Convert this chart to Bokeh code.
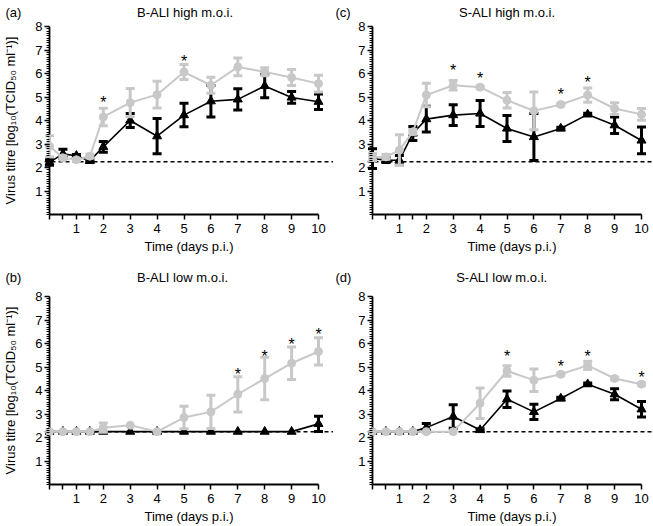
from bokeh.plotting import figure
from bokeh.layouts import gridplot
from bokeh.models import FixedTicker, Span, Range1d
from bokeh.core.properties import value
from bokeh.embed import file_html
from bokeh.resources import INLINE

# ---------------- data ----------------
days = [0, 0.5, 1, 1.5, 2, 3, 4, 5, 6, 7, 8, 9, 10]

# (a) B-ALI high m.o.i.
a_grey = [2.90, 2.41, 2.33, 2.48, 4.15, 4.76, 5.10, 6.06, 5.50, 6.28, 6.07, 5.83, 5.57]
a_grey_err = [0.45, 0.08, 0.05, 0.08, 0.37, 0.60, 0.57, 0.32, 0.34, 0.38, 0.17, 0.34, 0.36]
a_black = [2.22, 2.58, 2.50, 2.28, 2.88, 4.00, 3.33, 4.23, 4.82, 4.90, 5.47, 4.98, 4.80]
a_black_err = [0.12, 0.20, 0.05, 0.05, 0.23, 0.30, 0.75, 0.50, 0.67, 0.45, 0.50, 0.25, 0.33]
a_star_x = [2, 5]
a_star_y = [4.93, 6.68]

# (b) B-ALI low m.o.i.
b_grey = [2.25, 2.25, 2.25, 2.25, 2.42, 2.52, 2.25, 2.85, 3.09, 3.84, 4.51, 5.16, 5.66]
b_grey_err = [0, 0, 0, 0, 0.20, 0, 0, 0.48, 0.71, 0.75, 0.90, 0.69, 0.58]
b_black = [2.25, 2.25, 2.25, 2.25, 2.25, 2.25, 2.25, 2.25, 2.25, 2.25, 2.25, 2.25, 2.58]
b_black_err = [0, 0, 0, 0, 0, 0, 0, 0, 0, 0, 0, 0, 0.32]
b_star_x = [7, 8, 9, 10]
b_star_y = [4.83, 5.61, 6.14, 6.54]

# (c) S-ALI high m.o.i.
c_grey = [2.45, 2.45, 2.74, 3.52, 5.08, 5.50, 5.42, 4.86, 4.41, 4.68, 5.08, 4.51, 4.26]
c_grey_err = [0.15, 0.10, 0.65, 0.10, 0.50, 0.20, 0.05, 0.33, 0.80, 0.05, 0.30, 0.25, 0.25]
c_black = [2.38, 2.31, 2.31, 3.45, 4.06, 4.23, 4.30, 3.66, 3.30, 3.66, 4.26, 3.80, 3.15]
c_black_err = [0.42, 0.10, 0.20, 0.30, 0.55, 0.44, 0.55, 0.55, 1.00, 0.05, 0.05, 0.35, 0.57]
c_star_x = [3, 4, 7, 8]
c_star_y = [6.28, 5.96, 5.29, 5.79]

# (d) S-ALI low m.o.i.
d_grey = [2.25, 2.25, 2.25, 2.25, 2.25, 2.25, 3.46, 4.83, 4.44, 4.69, 5.07, 4.51, 4.27]
d_grey_err = [0, 0, 0, 0, 0, 0, 0.65, 0.22, 0.48, 0.05, 0.18, 0.05, 0.05]
d_black = [2.25, 2.25, 2.25, 2.25, 2.42, 2.89, 2.32, 3.63, 3.09, 3.66, 4.27, 3.84, 3.20]
d_black_err = [0, 0, 0, 0, 0.18, 0.50, 0.05, 0.35, 0.32, 0.05, 0.05, 0.23, 0.33]
d_star_x = [5, 7, 8, 10]
d_star_y = [5.61, 5.19, 5.61, 4.74]

detection_limit = 2.25
x_ticks = [0, 0.5, 1, 1.5, 2, 3, 4, 5, 6, 7, 8, 9, 10]
x_tick_labels = ["", "", "1", "", "2", "3", "4", "5", "6", "7", "8", "9", "10"]
y_ticks = [1, 2, 3, 4, 5, 6, 7, 8]
y_minor = [i / 10 for i in range(0, 81)]
y_label = "Virus titre [log\u2081\u2080(TCID\u2085\u2080 ml\u207b\u00b9)]"
x_label = "Time (days p.i.)"

FONT = "Liberation Sans"
GREY = "#c8c8c8"
BLACK = "#000000"
PPD = 26.9      # pixels per day
PAD = 5         # frame starts this many px left of day 0
NB = "\u00a0"


def add_series(p, ys, errs, color, marker, msize, lw):
    bx = [x for x, e in zip(days, errs) if e > 0]
    lo = [y - e for y, e in zip(ys, errs) if e > 0]
    hi = [y + e for y, e in zip(ys, errs) if e > 0]
    p.segment(x0=bx, y0=lo, x1=bx, y1=hi, line_color=color, line_width=3)
    p.scatter(bx, lo, marker="dash", size=9, line_color=color, line_width=3)
    p.scatter(bx, hi, marker="dash", size=9, line_color=color, line_width=3)
    p.line(days, ys, line_color=color, line_width=lw)
    p.scatter(days, ys, marker=marker, size=msize, fill_color=color, line_color=color)


def make_panel(letter, title, gap, grey, grey_err, black, black_err, sx, sy,
               left, frame_w, top, bottom, title_standoff, show_ylabel):
    x0 = -PAD / PPD
    x1 = x0 + frame_w / PPD
    p = figure(output_backend="svg", toolbar_location=None,
               frame_width=frame_w, frame_height=188,
               x_range=Range1d(x0, x1), y_range=Range1d(0, 8),
               min_border_left=left, min_border_right=0,
               min_border_top=top, min_border_bottom=bottom)
    p.outline_line_color = None
    p.grid.visible = False
    p.background_fill_color = "white"

    p.title.text = letter + NB * gap + title
    p.title.align = "left"
    p.title.vertical_align = "top"
    p.title.offset = -left + 2
    p.title.text_font = FONT
    p.title.text_font_size = "13px"
    p.title.text_font_style = "normal"
    p.title.text_color = BLACK
    p.title.standoff = title_standoff

    # y axis line at day 0
    yline = Span(location=0, dimension="height", line_color=BLACK, line_width=1.8,
                 level="underlay")
    p.add_layout(yline)
    lod = Span(location=detection_limit, dimension="width", line_color=BLACK,
               line_dash="4 3", line_width=1.5, level="underlay")
    p.add_layout(lod)

    add_series(p, black, black_err, BLACK, "triangle", 9, 1.6)
    add_series(p, grey, grey_err, GREY, "circle", 8, 2)

    p.text(x=sx, y=sy, text=["*"] * len(sx), text_font=value(FONT),
           text_font_size="16px", text_align="center", text_baseline="middle",
           y_offset=4, text_color=BLACK)

    xa = p.xaxis[0]
    xa.bounds = (0, 10)
    xa.ticker = FixedTicker(ticks=x_ticks, minor_ticks=[])
    xa.major_label_overrides = {t: l for t, l in zip(x_ticks, x_tick_labels)}
    xa.axis_label = x_label
    xa.axis_line_width = 1.8
    xa.axis_line_color = BLACK
    xa.major_tick_in = 0
    xa.major_tick_out = 5
    xa.major_label_standoff = 4
    xa.axis_label_text_font_size = "13px"
    xa.axis_label_standoff = 3

    ya = p.yaxis[0]
    ya.ticker = FixedTicker(ticks=y_ticks, minor_ticks=y_minor)
    ya.axis_line_color = None
    ya.major_tick_in = PAD
    ya.major_tick_out = 0
    ya.minor_tick_in = PAD
    ya.minor_tick_out = -2
    ya.major_label_standoff = 2
    ya.axis_label = y_label if show_ylabel else None
    ya.axis_label_text_font_size = "13px"
    ya.axis_label_standoff = 14

    for ax in (xa, ya):
        ax.major_tick_line_width = 1.5
        ax.major_tick_line_color = BLACK
        ax.minor_tick_line_color = BLACK
        ax.major_label_text_font = FONT
        ax.major_label_text_font_size = "13px"
        ax.major_label_text_color = BLACK
        ax.axis_label_text_font = FONT
        ax.axis_label_text_font_style = "normal"
        ax.axis_label_text_color = BLACK
    return p


pa = make_panel("(a)", "B-ALI high m.o.i.", 32, a_grey, a_grey_err, a_black, a_black_err,
                a_star_x, a_star_y, 41, 289, 26, 45, 9, True)
pc = make_panel("(c)", "S-ALI high m.o.i.", 30, c_grey, c_grey_err, c_black, c_black_err,
                c_star_x, c_star_y, 34, 289, 26, 45, 9, False)
pb = make_panel("(b)", "B-ALI low m.o.i.", 32, b_grey, b_grey_err, b_black, b_black_err,
                b_star_x, b_star_y, 41, 289, 37, 42, 20, True)
pd = make_panel("(d)", "S-ALI low m.o.i.", 29, d_grey, d_grey_err, d_black, d_black_err,
                d_star_x, d_star_y, 34, 289, 37, 42, 20, False)

grid = gridplot([[pa, pc], [pb, pd]], toolbar_location=None)

open("out.html", "w").write(file_html(grid, INLINE))
